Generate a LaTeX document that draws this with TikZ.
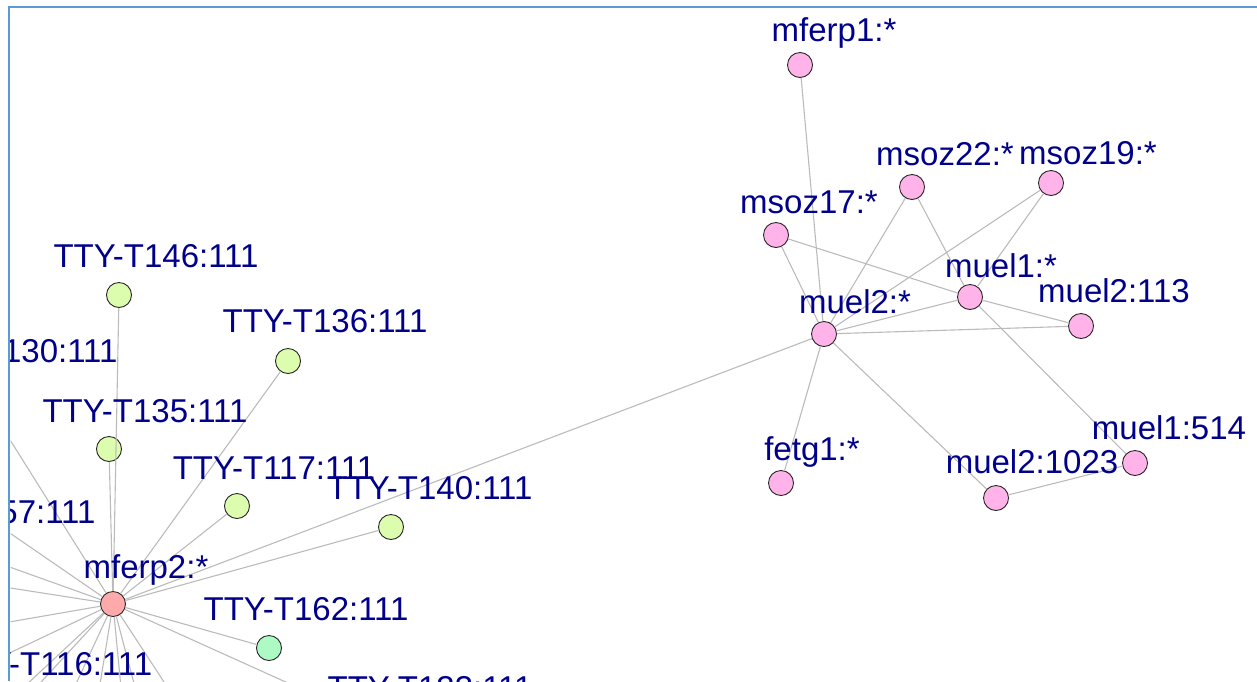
\documentclass[tikz,border=0pt]{standalone}
\usepackage{fontspec}
\setmainfont{Liberation Sans}
\usepackage{xcolor}
\usepackage{tikz}
\definecolor{cLabel}{HTML}{00008B}
\definecolor{cEdge}{HTML}{BBBBBB}
\definecolor{cFrame}{HTML}{5B9BD5}
\definecolor{cPink}{HTML}{FFB3E9}
\definecolor{cLime}{HTML}{DCFCAE}
\definecolor{cMint}{HTML}{ADFAC4}
\definecolor{cSalmon}{HTML}{FFAAAA}
\tikzstyle{tsLabel} = [
    text=cLabel,
    font=\fontsize{33}{34}\selectfont,
    inner sep=0pt,
    anchor=base
]
\tikzstyle{tsVertex} = [
    circle,
    draw=black!85,
    line width=0.9pt,
    minimum size=25pt,
    inner sep=0pt]
\tikzstyle{tsPink} = [tsVertex, fill=cPink]
\tikzstyle{tsLime} = [tsVertex, fill=cLime]
\tikzstyle{tsMint} = [tsVertex, fill=cMint]
\tikzstyle{tsSalmon} = [tsVertex, fill=cSalmon]
\tikzstyle{tsEdge} = [draw=cEdge, line width=1.1pt]

\begin{document}
\begin{tikzpicture}[x=1pt, y=-1pt]

        \useasboundingbox (0,0) rectangle (1257,681);

        % Frame of the view
        \draw[cFrame, line width=2.5pt] (9,681) -- (9,7) -- (1257,7);

        \begin{scope}
        \clip (10.5,8.5) rectangle (1257,681);

        % Right cluster
        \node[tsPink] (mferp1) at (800,65) {};
        \node[tsPink] (msoz22) at (912,187) {};
        \node[tsPink] (msoz19) at (1051,183) {};
        \node[tsPink] (msoz17) at (776,235) {};
        \node[tsPink] (muel1) at (970,297) {};
        \node[tsPink] (muel2x113) at (1081,326) {};
        \node[tsPink] (muel2) at (824,334) {};
        \node[tsPink] (fetg1) at (781,483) {};
        \node[tsPink] (muel2x1023) at (996,498) {};
        \node[tsPink] (muel1x514) at (1135,463) {};

        % Left cluster
        \node[tsSalmon] (mferp2) at (113,604) {};
        \node[tsLime] (t146) at (119,295) {};
        \node[tsLime] (t136) at (288,361) {};
        \node[tsLime] (t135) at (109,449) {};
        \node[tsLime] (t117) at (237,506) {};
        \node[tsLime] (t140) at (391,527) {};
        \node[tsMint] (t162) at (269,648) {};

        % Ends outside the view
        \coordinate (t130) at (-20,392);
        \coordinate (t157) at (-38,550);
        \coordinate (t116) at (19,706);
        \coordinate (t133) at (392,730);
        \coordinate (outA) at (-60,485);
        \coordinate (outB) at (-60,577);
        \coordinate (outC) at (-60,634);
        \coordinate (outD) at (-60,686);
        \coordinate (outE) at (-33,740);
        \coordinate (outF) at (50,740);
        \coordinate (outG) at (91,740);
        \coordinate (outH) at (126,740);
        \coordinate (outI) at (149,740);
        \coordinate (outJ) at (202,740);

        % Connectors
        \foreach \n in {mferp1,msoz17,msoz22,msoz19,muel1,muel2x113,fetg1,muel2x1023,mferp2}
            \draw[tsEdge] (muel2) -- (\n);
        \foreach \n in {msoz17,msoz22,msoz19,muel2x113,muel1x514}
            \draw[tsEdge] (muel1) -- (\n);
        \draw[tsEdge] (muel2x1023) -- (muel1x514);
        \foreach \n in {t146,t136,t135,t117,t140,t162,t130,t157,t116,t133,
                        outA,outB,outC,outD,outE,outF,outG,outH,outI,outJ}
            \draw[tsEdge] (mferp2) -- (\n);

        % Labels
        \node[tsLabel] (mferp1Lbl) at (834,41) {mferp1:*};
        \node[tsLabel] (msoz22Lbl) at (945,165) {msoz22:*};
        \node[tsLabel] (msoz19Lbl) at (1088,164) {msoz19:*};
        \node[tsLabel] (msoz17Lbl) at (809,213) {msoz17:*};
        \node[tsLabel] (muel1Lbl) at (1001,277) {muel1:*};
        \node[tsLabel] (muel2x113Lbl) at (1114,302) {muel2:113};
        \node[tsLabel] (muel2Lbl) at (855,313) {muel2:*};
        \node[tsLabel] (fetg1Lbl) at (812,460) {fetg1:*};
        \node[tsLabel] (muel2x1023Lbl) at (1032,473) {muel2:1023};
        \node[tsLabel] (muel1x514Lbl) at (1169,439) {muel1:514};

        \node[tsLabel] (mferp2Lbl) at (146,578) {mferp2:*};
        \node[tsLabel] (t146Lbl) at (156,267) {TTY-T146:111};
        \node[tsLabel] (t136Lbl) at (325,332) {TTY-T136:111};
        \node[tsLabel] (t130Lbl) at (15,362) {TTY-T130:111};
        \node[tsLabel] (t135Lbl) at (145,422) {TTY-T135:111};
        \node[tsLabel] (t117Lbl) at (274,479) {TTY-T117:111};
        \node[tsLabel] (t140Lbl) at (430,499) {TTY-T140:111};
        \node[tsLabel] (t157Lbl) at (-7,523) {TTY-T157:111};
        \node[tsLabel] (t162Lbl) at (306,620) {TTY-T162:111};
        \node[tsLabel] (t116Lbl) at (51,675) {TTY-T116:111};
        \node[tsLabel] (t133Lbl) at (430,699) {TTY-T133:111};

        \end{scope}

    \end{tikzpicture}
\end{document}
